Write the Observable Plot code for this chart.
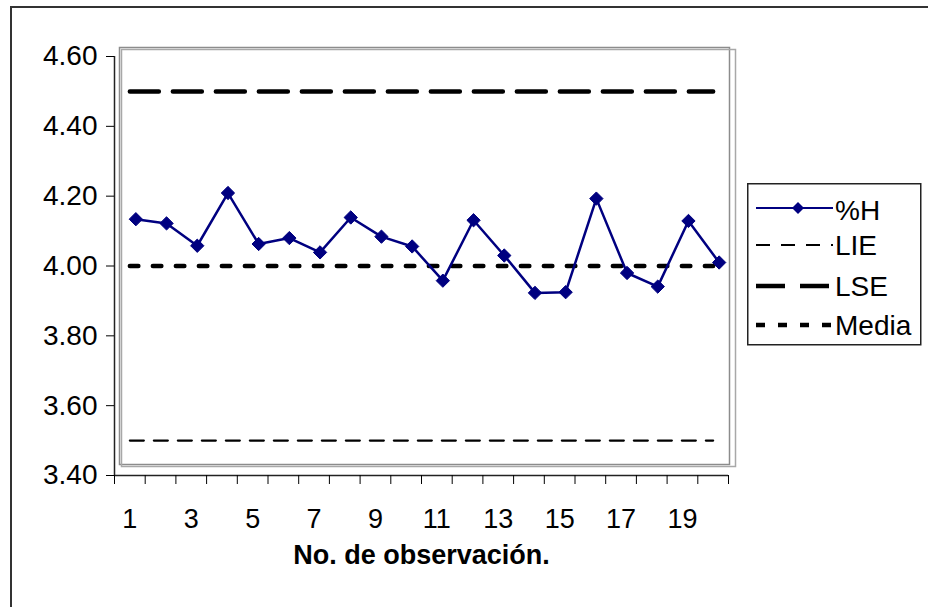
<!DOCTYPE html>
<html><head><meta charset="utf-8">
<script src="https://cdn.jsdelivr.net/npm/d3@7"></script>
<script src="https://cdn.jsdelivr.net/npm/@observablehq/plot@0.6"></script>
<style>
html,body{margin:0;padding:0;background:#fff;overflow:hidden;}
#wrap{position:relative;width:928px;height:607px;overflow:hidden;font-family:"Liberation Sans",Arial,sans-serif;}
#border{position:absolute;left:10px;top:6px;width:1000px;height:1000px;border-left:2px solid #333;border-top:2px solid #333;}
#wrap svg.plot{position:absolute;left:0;top:0;}
#legend{position:absolute;left:747px;top:183px;}
</style></head><body><div id="wrap"><div id="border"></div></div>
<script>
// ---- data ----
const observations = [1,2,3,4,5,6,7,8,9,10,11,12,13,14,15,16,17,18,19,20];
const pctH = [4.134,4.122,4.058,4.209,4.063,4.080,4.039,4.139,4.084,4.056,3.958,4.131,4.030,3.923,3.925,4.193,3.980,3.941,4.129,4.010];
const LIE = 3.50;
const LSE = 4.50;
const MEDIA = 4.00;
const yTicks = [3.40,3.60,3.80,4.00,4.20,4.40,4.60];
const xLabelTicks = [1,3,5,7,9,11,13,15,17,19];
const xBoundaryTicks = [0.5,1.5,2.5,3.5,4.5,5.5,6.5,7.5,8.5,9.5,10.5,11.5,12.5,13.5,14.5,15.5,16.5,17.5,18.5,19.5,20.5];
const seriesNames = ["%H","LIE","LSE","Media"];
const xTitle = "No. de observación.";

const hData = observations.map((o,i)=>({x:o,y:pctH[i]}));
const lieData = observations.map(o=>({x:o,y:LIE}));
const lseData = observations.map(o=>({x:o,y:LSE}));
const mediaData = observations.map(o=>({x:o,y:MEDIA}));

const FS_Y = 28, FS_X = 27, FS_T = 27, FS_L = 28;
const chart = Plot.plot({
  width:928, height:607,
  marginLeft:114, marginRight:200, marginTop:56, marginBottom:132,
  style:{fontFamily:"'Liberation Sans', Arial, sans-serif", fontSize:FS_X+"px", color:"#000", background:"transparent", overflow:"visible"},
  x:{type:"linear", domain:[0.5,20.5]},
  y:{domain:[3.4,4.6]},
  marks:[
    Plot.frame({stroke:"#8c8c8c", strokeWidth:1.5, insetLeft:5, insetRight:-1, insetTop:-9, insetBottom:11}),
    Plot.frame({stroke:"#a8a8a8", strokeWidth:1.5, insetLeft:7, insetRight:-7, insetTop:-7, insetBottom:9}),
    Plot.lineY(lieData, {x:"x", y:"y", stroke:"#000", strokeWidth:2.2, strokeDasharray:"14,10"}),
    Plot.lineY(lseData, {x:"x", y:"y", stroke:"#000", strokeWidth:4.5, strokeDasharray:"29,14"}),
    Plot.lineY(mediaData, {x:"x", y:"y", stroke:"#000", strokeWidth:4.5, strokeDasharray:"8.5,14.5"}),
    Plot.line(hData, {x:"x", y:"y", stroke:"#000080", strokeWidth:2.5, dx:6}),
    Plot.dot(hData, {x:"x", y:"y", symbol:"diamond2", r:6, fill:"#000080", stroke:"#000080", strokeWidth:1, dx:6}),
    Plot.ruleX([0.5], {stroke:"#222", strokeWidth:1.5}),
    Plot.ruleY([3.4], {stroke:"#222", strokeWidth:1.5}),
    Plot.axisY({ticks:yTicks, tickFormat:d3.format(".2f"), tickSize:8, tickPadding:9, label:null, fontSize:FS_Y}),
    Plot.axisX({ticks:xBoundaryTicks, tickFormat:()=>"", tickSize:9, label:null}),
    Plot.axisX({ticks:xLabelTicks, tickSize:0, tickPadding:33, label:null, fontSize:FS_X}),
    Plot.text([xTitle], {frameAnchor:"bottom", dy:88, fontWeight:"bold", fontSize:FS_T})
  ]
});
document.getElementById("wrap").appendChild(chart);

// ---- legend ----
const ns = "http://www.w3.org/2000/svg";
const lg = document.createElementNS(ns,"svg");
lg.setAttribute("id","legend");
lg.setAttribute("width",176); lg.setAttribute("height",164);
lg.style.fontFamily = "'Liberation Sans', Arial, sans-serif";
const mk = (tag, attrs) => { const e=document.createElementNS(ns,tag); for (const k in attrs) e.setAttribute(k,attrs[k]); lg.appendChild(e); return e; };
mk("rect",{x:0.75,y:0.75,width:173,height:161,fill:"#fff",stroke:"#222","stroke-width":1.5});
const rows = [
  {name:seriesNames[0], y:25, stroke:"#000080", w:2, dash:null, diamond:true},
  {name:seriesNames[1], y:62, stroke:"#000", w:2.2, dash:"14,11"},
  {name:seriesNames[2], y:103, stroke:"#000", w:4.5, dash:"29,15"},
  {name:seriesNames[3], y:142, stroke:"#000", w:4.5, dash:"9,13"}
];
for (const r of rows) {
  const l = mk("line",{x1:9,x2:86,y1:r.y,y2:r.y,stroke:r.stroke,"stroke-width":r.w});
  if (r.dash) l.setAttribute("stroke-dasharray", r.dash);
  if (r.diamond) mk("path",{d:`M51,${r.y-6}L57,${r.y}L51,${r.y+6}L45,${r.y}Z`, fill:"#000080"});
  const t = mk("text",{x:88,y:r.y+(r.diamond?2:0),"dominant-baseline":"central","font-size":FS_L,fill:"#000"});
  t.textContent = r.name;
}
document.getElementById("wrap").appendChild(lg);
</script>
</body></html>
